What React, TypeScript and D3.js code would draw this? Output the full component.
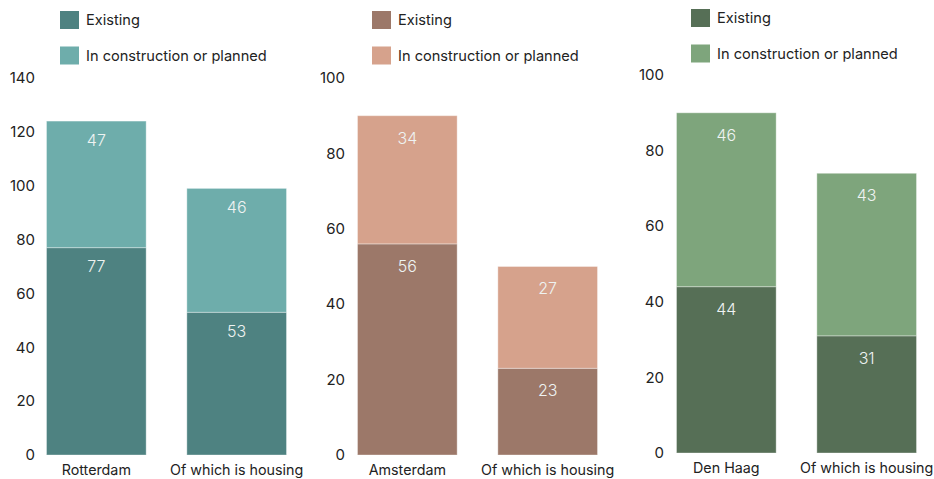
import React from "react";
import * as d3 from "d3";

const rotterdamCategories = ["Rotterdam", "Of which is housing"];
const rotterdamExisting = [77, 53];
const rotterdamPlanned = [47, 46];

const amsterdamCategories = ["Amsterdam", "Of which is housing"];
const amsterdamExisting = [56, 23];
const amsterdamPlanned = [34, 27];

const denHaagCategories = ["Den Haag", "Of which is housing"];
const denHaagExisting = [44, 31];
const denHaagPlanned = [46, 43];

const legendLabels = ["Existing", "In construction or planned"];
const rotterdamTicks = [0, 20, 40, 60, 80, 100, 120, 140];
const amsterdamTicks = [0, 20, 40, 60, 80, 100];
const denHaagTicks = [0, 20, 40, 60, 80, 100];

const FONT = "Inter, 'DejaVu Sans', sans-serif";

type PanelProps = {
  categories: string[];
  existing: number[];
  planned: number[];
  ticks: number[];
  colors: [string, string];
  yTop: number;
  yBottom: number;
  xLeft: number;
  xRight: number;
  tickX: number;
  legendX: number;
  legendY: number;
};

function Panel(p: PanelProps) {
  const max = p.ticks[p.ticks.length - 1];
  const y = d3.scaleLinear().domain([0, max]).range([p.yBottom, p.yTop]);
  const x = d3
    .scaleBand<string>()
    .domain(p.categories)
    .range([p.xLeft, p.xRight])
    .paddingInner(0.29)
    .paddingOuter(0);
  const bw = x.bandwidth();
  const off = 11 + (y(0) - y(3));
  return (
    <g>
      {legendLabels.map((l, i) => (
        <g key={l}>
          <rect
            x={p.legendX}
            y={p.legendY + i * 35.5}
            width={19}
            height={18}
            fill={p.colors[i]}
          />
          <text
            x={p.legendX + 26}
            y={p.legendY + i * 35.5 + 14}
            fontSize={14.6}
            fill="#222"
            fontFamily={FONT}
          >
            {l}
          </text>
        </g>
      ))}
      {p.ticks.map((t) => (
        <text
          key={t}
          x={p.tickX}
          y={y(t)}
          dy="0.35em"
          textAnchor="end"
          fontSize={15}
          fill="#222"
          fontFamily={FONT}
        >
          {t}
        </text>
      ))}
      {p.categories.map((c, i) => {
        const e = p.existing[i];
        const pl = p.planned[i];
        const x0 = x(c)!;
        return (
          <g key={c}>
            <rect
              x={x0}
              y={y(e)}
              width={bw}
              height={y(0) - y(e)}
              fill={p.colors[0]}
              stroke="rgba(255,255,255,0.35)"
              strokeWidth={1}
            />
            <rect
              x={x0}
              y={y(e + pl)}
              width={bw}
              height={y(e) - y(e + pl)}
              fill={p.colors[1]}
              stroke="rgba(255,255,255,0.35)"
              strokeWidth={1}
            />
            <text
              x={x0 + bw / 2}
              y={y(e) + off}
              dy="0.35em"
              textAnchor="middle"
              fontSize={16}
              fontWeight={300}
              fill="#eef3f2"
              fontFamily={FONT}
            >
              {e}
            </text>
            <text
              x={x0 + bw / 2}
              y={y(e + pl) + off}
              dy="0.35em"
              textAnchor="middle"
              fontSize={16}
              fontWeight={300}
              fill="#eef3f2"
              fontFamily={FONT}
            >
              {pl}
            </text>
            <text
              x={x0 + bw / 2}
              y={p.yBottom + 15}
              dy="0.35em"
              textAnchor="middle"
              fontSize={14.3}
              fill="#222"
              fontFamily={FONT}
            >
              {c}
            </text>
          </g>
        );
      })}
    </g>
  );
}

export default function App() {
  return (
    <svg
      width={934}
      height={479}
      style={{ position: "absolute", left: 0, top: 0, background: "#fff" }}
    >
      <Panel
        categories={rotterdamCategories}
        existing={rotterdamExisting}
        planned={rotterdamPlanned}
        ticks={rotterdamTicks}
        colors={["#4e8281", "#6eadab"]}
        yTop={78}
        yBottom={455}
        xLeft={46.5}
        xRight={286.5}
        tickX={35}
        legendX={60}
        legendY={11}
      />
      <Panel
        categories={amsterdamCategories}
        existing={amsterdamExisting}
        planned={amsterdamPlanned}
        ticks={amsterdamTicks}
        colors={["#9c7869", "#d6a28c"]}
        yTop={78}
        yBottom={455}
        xLeft={357.5}
        xRight={597.5}
        tickX={345}
        legendX={372}
        legendY={11}
      />
      <Panel
        categories={denHaagCategories}
        existing={denHaagExisting}
        planned={denHaagPlanned}
        ticks={denHaagTicks}
        colors={["#566f56", "#7ea57c"]}
        yTop={75}
        yBottom={453}
        xLeft={676.5}
        xRight={916.5}
        tickX={664}
        legendX={691}
        legendY={9}
      />
    </svg>
  );
}
